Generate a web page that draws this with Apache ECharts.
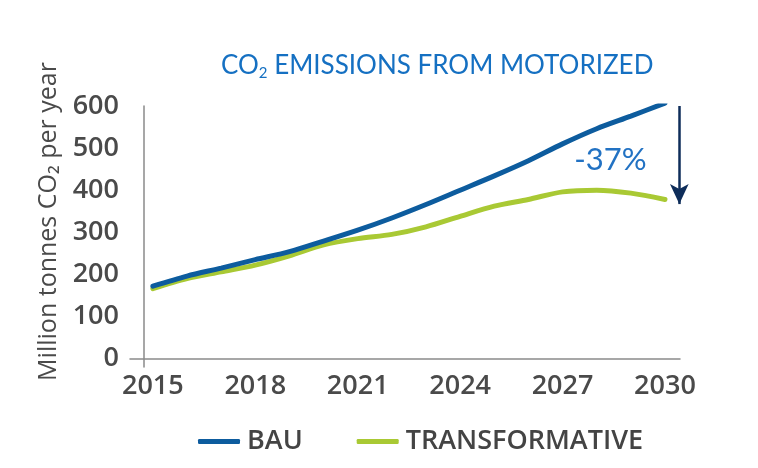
<!DOCTYPE html>
<html><head><meta charset="utf-8">
<script src="https://cdn.jsdelivr.net/npm/echarts@6/dist/echarts.min.js"></script>
<style>html,body{margin:0;padding:0;background:#fff}#c{width:758px;height:468px}</style>
</head><body><div id="c"></div>
<script>
const years = [2015,2016,2017,2018,2019,2020,2021,2022,2023,2024,2025,2026,2027,2028,2029,2030];
const bau = [172,196,215,235,254,279,305,334,366,400,434,470,510,546,576,607];
const transformative = [166,190,206,222,244,270,285,295,313,338,362,378,396,400,393,378];
const xTicks = [2015,2018,2021,2024,2027,2030];
const yTicks = [0,100,200,300,400,500,600];
const seriesNames = ['BAU','TRANSFORMATIVE'];
const reductionLabel = '-37%';
const arrowFrom = [2030.42, 600];
const arrowTo = [2030.42, 367];
const labelAt = [2028.4, 472];

const chart = echarts.init(document.getElementById('c'));
const font = '"Open Sans", Lato, sans-serif';
chart.setOption({
  animation: false,
  title: {
    text: 'CO{sub|2} EMISSIONS FROM MOTORIZED',
    left: 216, top: 46,
    textStyle: {
      fontFamily: 'Lato', fontSize: 26, fontWeight: 'normal', color: '#1570c2',
      rich: { sub: { fontFamily: 'Lato', fontSize: 15, color: '#1570c2', padding: [15,0,0,0] } }
    }
  },
  legend: {
    left: 193, top: 423,
    icon: 'roundRect', itemWidth: 42, itemHeight: 5, itemGap: 54,
    textStyle: { fontFamily: font, fontSize: 27, fontWeight: 600, color: '#444', padding: [0,0,0,2] },
    data: seriesNames
  },
  grid: { left: 130, right: 78, top: 106, bottom: 101 },
  xAxis: {
    type: 'value', min: 2014.33, max: 2030.44,
    axisLine: { onZero: true, lineStyle: { color: '#8a8a8a', width: 1.5 } },
    axisTick: { show: false }, splitLine: { show: false },
    axisLabel: { customValues: xTicks, margin: 6, fontFamily: font, fontSize: 27, fontWeight: 600, color: '#4a4a4a', formatter: v => String(v) }
  },
  yAxis: {
    type: 'value', min: -20, max: 600, offset: -14,
    name: 'Million tonnes CO₂ per year', nameLocation: 'middle', nameGap: 83, nameRotate: 90,
    nameTextStyle: { fontFamily: font, fontSize: 25, fontWeight: 500, color: '#4a4a4a', padding: [0,0,0,30] },
    axisLine: { show: true, lineStyle: { color: '#8a8a8a', width: 1.5 } },
    axisTick: { show: false }, splitLine: { show: false },
    axisLabel: { customValues: yTicks, margin: 25, fontFamily: font, fontSize: 27, fontWeight: 600, color: '#4a4a4a' }
  },
  series: [
    {
      name: seriesNames[1], type: 'line', data: years.map((y,i)=>[y, transformative[i]]),
      symbol: 'none', smooth: 0.3, color: '#a9c934',
      lineStyle: { width: 5, color: '#a9c934', cap: 'round' }
    },
    {
      name: seriesNames[0], type: 'line', data: years.map((y,i)=>[y, bau[i]]),
      symbol: 'none', smooth: 0.3, color: '#0d5c9e',
      lineStyle: { width: 5, color: '#0d5c9e', cap: 'round' },
      markLine: {
        silent: true, symbol: ['none','arrow'], symbolSize: [14, 20],
        lineStyle: { color: '#0e2d5a', width: 2.5, type: 'solid' },
        label: { show: false },
        data: [[ { coord: arrowFrom }, { coord: arrowTo } ]]
      },
      markPoint: {
        silent: true, symbolSize: 0,
        label: { show: true, formatter: reductionLabel, fontFamily: 'Lato', fontSize: 31, color: '#2272c3', position: 'inside' },
        data: [ { coord: labelAt } ]
      }
    }
  ]
});
</script></body></html>
